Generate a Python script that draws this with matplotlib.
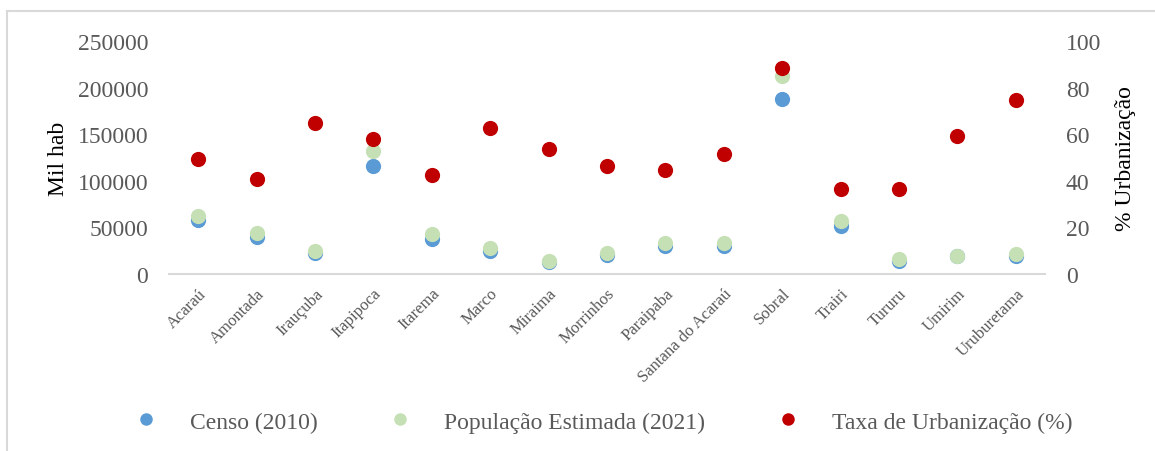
import matplotlib
matplotlib.use("Agg")
import matplotlib.pyplot as plt
from matplotlib.lines import Line2D

plt.rcParams['font.family'] = ['Liberation Serif', 'DejaVu Serif']

municipios = ["Acaraú", "Amontada", "Irauçuba", "Itapipoca", "Itarema", "Marco",
              "Miraima", "Morrinhos", "Paraipaba", "Santana do Acaraú", "Sobral",
              "Trairi", "Tururu", "Umirim", "Uruburetama"]
censo_2010 = [57551, 39232, 22324, 116065, 37471, 24703, 12800, 20700, 30041,
              29946, 188233, 51422, 14408, 18802, 19765]
pop_2021 = [62641, 44143, 24442, 131687, 42957, 27856, 13600, 22600, 32900,
            32800, 212437, 56500, 16400, 19800, 21900]
taxa_urb = [49.3, 40.8, 64.7, 57.9, 42.6, 62.5, 53.6, 46.5, 44.8, 51.5, 88.4,
            36.6, 36.6, 59.1, 74.7]

c_blue = "#5B9BD5"
c_green = "#C5E0B4"
c_red = "#C00000"
tick_gray = "#595959"

W, H = 1155, 452
fig = plt.figure(figsize=(W / 100, H / 100), dpi=100)
ax = fig.add_axes([169 / W, 1 - 275 / H, (1045 - 169) / W, (275 - 42) / H])
ax2 = ax.twinx()

x = list(range(len(municipios)))
ax.scatter(x, censo_2010, s=120, color=c_blue, zorder=3, linewidths=0)
ax.scatter(x, pop_2021, s=120, color=c_green, zorder=4, linewidths=0)
ax2.scatter(x, taxa_urb, s=120, color=c_red, zorder=5, linewidths=0)

ax.set_xlim(-0.5, len(municipios) - 0.5)
ax.set_ylim(0, 250000)
ax2.set_ylim(0, 100)
ax.set_yticks(range(0, 250001, 50000))
ax2.set_yticks(range(0, 101, 20))
ax.set_xticks(x)
ax.set_xticklabels(municipios, rotation=45, ha='right', rotation_mode='anchor',
                   fontsize=12, color=tick_gray)

for a in (ax, ax2):
    for s in a.spines.values():
        s.set_visible(False)
ax.spines['bottom'].set_visible(True)
ax.spines['bottom'].set_color("#D9D9D9")
ax.spines['bottom'].set_linewidth(1.5)

ax.tick_params(axis='y', length=0, pad=15, labelsize=17, labelcolor=tick_gray)
ax2.tick_params(axis='y', length=0, pad=15, labelsize=17, labelcolor=tick_gray)
ax.tick_params(axis='x', length=0, pad=8)

ax.set_ylabel("Mil hab", fontsize=17, color="black", labelpad=6)
ax2.set_ylabel("% Urbanização", fontsize=17, color="black", labelpad=10)

# legend row at the bottom
handles = [
    Line2D([], [], marker='o', linestyle='', markersize=9, color=c_blue, markeredgewidth=0),
    Line2D([], [], marker='o', linestyle='', markersize=9, color=c_green, markeredgewidth=0),
    Line2D([], [], marker='o', linestyle='', markersize=9, color=c_red, markeredgewidth=0),
]
labels = ["Censo (2010)", "População Estimada (2021)", "Taxa de Urbanização (%)"]
leg = fig.legend(handles, labels, loc='center', bbox_to_anchor=(603 / W, 1 - 423 / H),
                 ncol=3, frameon=False, fontsize=17, columnspacing=3.0,
                 handletextpad=1.36, handlelength=1.0, borderpad=0, borderaxespad=0)
for t in leg.get_texts():
    t.set_color(tick_gray)

# chart-area frame (left and top edges)
fig.add_artist(Line2D([7 / W, 7 / W], [0, 1 - 12 / H], transform=fig.transFigure,
                      color="#D9D9D9", linewidth=1.5))
fig.add_artist(Line2D([7 / W, 1], [1 - 12 / H, 1 - 12 / H], transform=fig.transFigure,
                      color="#D9D9D9", linewidth=1.5))

fig.savefig("out.png", dpi=100, facecolor="white")
